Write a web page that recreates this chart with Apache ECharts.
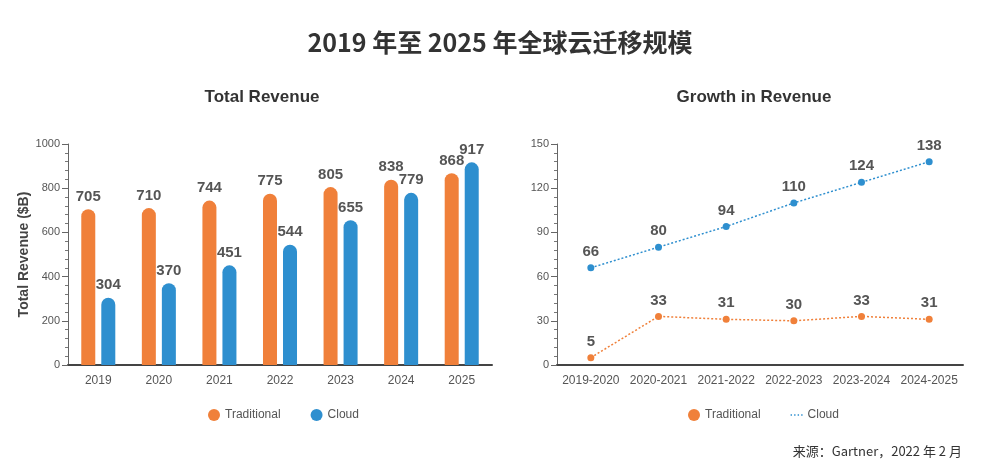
<!DOCTYPE html>
<html>
<head>
    <meta charset="utf-8">
    <title>Cloud Migration</title>
    <script src="https://cdn.jsdelivr.net/npm/echarts@6/dist/echarts.min.js"></script>
    <style>
        html, body { margin: 0; padding: 0; background: #fff; }
        #main { width: 1000px; height: 476px; }
    </style>
</head>
<body>
<div id="main"></div>
<script type="text/javascript">
    var years = ['2019', '2020', '2021', '2022', '2023', '2024', '2025'];
    var traditionalRevenue = [705, 710, 744, 775, 805, 838, 868];
    var cloudRevenue = [304, 370, 451, 544, 655, 779, 917];

    var periods = ['2019-2020', '2020-2021', '2021-2022', '2022-2023', '2023-2024', '2024-2025'];
    var traditionalGrowth = [5, 33, 31, 30, 33, 31];
    var cloudGrowth = [66, 80, 94, 110, 124, 138];

    var orange = '#f0803a';
    var blue = '#2e8fcf';
    var textColor = '#555';
    var font = 'Liberation Sans';

    var myChart = echarts.init(document.getElementById('main'));

    var valueLabel = {
        show: true,
        position: 'top',
        distance: 5,
        color: textColor,
        fontFamily: font,
        fontWeight: 'bold',
        fontSize: 15
    };

    var yAxisBase = {
        type: 'value',
        min: 0,
        axisLine: { show: true, lineStyle: { color: '#666', width: 1 } },
        axisTick: { show: true, length: 6, lineStyle: { color: '#666' } },
        minorTick: { show: true, splitNumber: 5, length: 3, lineStyle: { color: '#777' } },
        splitLine: { show: false },
        axisLabel: {
            color: textColor, fontFamily: font, fontSize: 11, margin: 8,
            formatter: function (v) { return String(v); }
        }
    };

    var xAxisBase = {
        type: 'category',
        axisLine: { lineStyle: { color: '#444', width: 2 } },
        axisTick: { show: false },
        axisLabel: { color: textColor, fontFamily: font, fontSize: 12, margin: 10, interval: 0 }
    };

    var option = {
        animation: false,
        title: [
            {
                text: '2019 年至 2025 年全球云迁移规模',
                left: 'center',
                top: 25,
                textStyle: { fontFamily: 'Noto Sans CJK SC', fontSize: 25, fontWeight: 'bold', color: '#333' }
            },
            {
                text: 'Total Revenue',
                left: 257,
                textAlign: 'center',
                top: 84,
                textStyle: { fontFamily: font, fontSize: 17, fontWeight: 'bold', color: '#333' }
            },
            {
                text: 'Growth in Revenue',
                left: 749,
                textAlign: 'center',
                top: 84,
                textStyle: { fontFamily: font, fontSize: 17, fontWeight: 'bold', color: '#333' }
            }
        ],
        legend: [
            {
                left: 203,
                top: 404,
                itemWidth: 12,
                itemHeight: 12,
                itemGap: 30,
                textStyle: { color: textColor, fontFamily: font, fontSize: 12 },
                data: [
                    { name: 'Traditional', icon: 'circle' },
                    { name: 'Cloud', icon: 'circle' }
                ]
            },
            {
                left: 683,
                top: 404,
                itemWidth: 12,
                itemHeight: 12,
                itemGap: 30,
                textStyle: { color: textColor, fontFamily: font, fontSize: 12 },
                formatter: function (name) {
                    return name.replace(' Growth', '');
                },
                data: [
                    { name: 'Traditional Growth', icon: 'circle' },
                    { name: 'Cloud Growth', icon: 'path://M0,5h2v2h-2z M5,5h2v2h-2z M10,5h2v2h-2z M15,5h2v2h-2z' }
                ]
            }
        ],
        grid: [
            { left: 68, right: 508, top: 144, bottom: 111 },
            { left: 557, right: 37, top: 144, bottom: 111 }
        ],
        xAxis: [
            Object.assign({}, xAxisBase, { gridIndex: 0, data: years }),
            Object.assign({}, xAxisBase, { gridIndex: 1, data: periods })
        ],
        yAxis: [
            Object.assign({}, yAxisBase, {
                gridIndex: 0,
                max: 1000,
                interval: 200,
                name: 'Total Revenue ($B)',
                nameLocation: 'middle',
                nameGap: 33,
                nameTextStyle: { color: '#444', fontFamily: font, fontSize: 14, fontWeight: 'bold' }
            }),
            Object.assign({}, yAxisBase, { gridIndex: 1, max: 150, interval: 30 })
        ],
        series: [
            {
                name: 'Traditional',
                type: 'bar',
                xAxisIndex: 0,
                yAxisIndex: 0,
                barWidth: 14,
                barGap: '43%',
                itemStyle: { color: orange, borderRadius: [7, 7, 0, 0] },
                label: valueLabel,
                data: traditionalRevenue
            },
            {
                name: 'Cloud',
                type: 'bar',
                xAxisIndex: 0,
                yAxisIndex: 0,
                barWidth: 14,
                itemStyle: { color: blue, borderRadius: [7, 7, 0, 0] },
                label: valueLabel,
                data: cloudRevenue
            },
            {
                name: 'Traditional Growth',
                type: 'line',
                xAxisIndex: 1,
                yAxisIndex: 1,
                symbol: 'circle',
                symbolSize: 7,
                lineStyle: { color: orange, width: 1.5, type: [2, 2] },
                itemStyle: { color: orange },
                label: valueLabel,
                data: traditionalGrowth
            },
            {
                name: 'Cloud Growth',
                type: 'line',
                xAxisIndex: 1,
                yAxisIndex: 1,
                symbol: 'circle',
                symbolSize: 7,
                lineStyle: { color: blue, width: 1.5, type: [2, 2] },
                itemStyle: { color: blue },
                label: valueLabel,
                data: cloudGrowth
            }
        ],
        graphic: [
            {
                type: 'text',
                right: 38,
                top: 445,
                style: {
                    text: '来源：Gartner，2022 年 2 月',
                    fill: '#333',
                    font: '13px "Noto Sans CJK SC"'
                }
            }
        ]
    };

    myChart.setOption(option);
    window.onresize = myChart.resize;
</script>
</body>
</html>
